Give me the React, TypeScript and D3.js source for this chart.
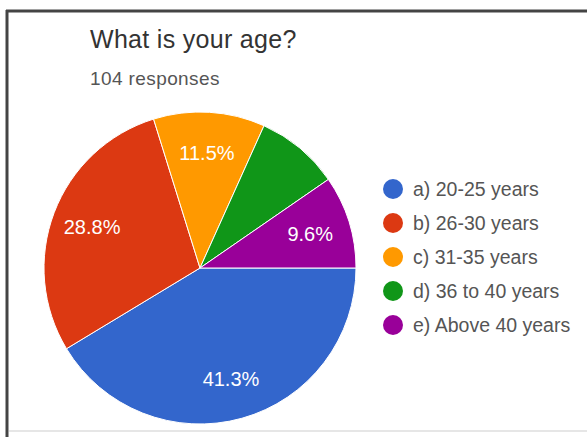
import React from "react";
import * as d3 from "d3";

const categories = [
  "a) 20-25 years",
  "b) 26-30 years",
  "c) 31-35 years",
  "d) 36 to 40 years",
  "e) Above 40 years",
];
const counts = [43, 30, 12, 9, 10];
const colors = ["#3366cc", "#dc3912", "#ff9900", "#109618", "#990099"];
const title = "What is your age?";
const subtitle = "104 responses";
const LABEL_MIN_PCT = 9;

const W = 587;
const H = 437;

export default function App() {
  const total = d3.sum(counts);
  const cx = 200;
  const cy = 268;
  const r = 156;
  const pie = d3
    .pie<number>()
    .sort(null)
    .startAngle(Math.PI / 2)
    .endAngle(Math.PI / 2 + 2 * Math.PI);
  const arcs = pie(counts);
  const arc = d3.arc<d3.PieArcDatum<number>>().innerRadius(0).outerRadius(r);
  const labelArc = d3
    .arc<d3.PieArcDatum<number>>()
    .innerRadius(r * 0.74)
    .outerRadius(r * 0.74);
  const legendY = d3.scalePoint<number>().domain(d3.range(categories.length)).range([189, 325]);

  return (
    <svg
      width={W}
      height={H}
      style={{ position: "absolute", left: 0, top: 0, background: "#fff" }}
      fontFamily="Arial, 'Liberation Sans', sans-serif"
    >
      <rect x={0} y={0} width={W} height={H} fill="#fff" />
      <line x1={6} x2={W} y1={11} y2={11} stroke="#444" strokeWidth={3} />
      <line x1={7} x2={7} y1={10} y2={H} stroke="#444" strokeWidth={3} />
      <line x1={9} x2={W} y1={431} y2={431} stroke="#e6e6e6" strokeWidth={2} />
      <text x={90} y={48} fontSize={25} fill="#333" letterSpacing={0.3}>
        {title}
      </text>
      <text x={90} y={85} fontSize={19} fill="#555" letterSpacing={0.4}>
        {subtitle}
      </text>
      <g transform={`translate(${cx},${cy})`}>
        {arcs.map((a, i) => (
          <path key={i} d={arc(a) || ""} fill={colors[i]} stroke="#fff" strokeWidth={1} />
        ))}
        {arcs.map((a, i) => {
          const pct = (counts[i] / total) * 100;
          if (pct < LABEL_MIN_PCT) return null;
          const [lx, ly] = labelArc.centroid(a);
          return (
            <text
              key={i}
              x={lx}
              y={ly}
              fill="#fff"
              fontSize={20}
              textAnchor="middle"
              dominantBaseline="central"
            >
              {pct.toFixed(1) + "%"}
            </text>
          );
        })}
      </g>
      {categories.map((c, i) => (
        <g key={c} transform={`translate(0,${legendY(i)})`}>
          <circle cx={393} cy={0} r={10} fill={colors[i]} />
          <text x={413} y={7} fontSize={19.5} fill="#555">
            {c}
          </text>
        </g>
      ))}
    </svg>
  );
}
